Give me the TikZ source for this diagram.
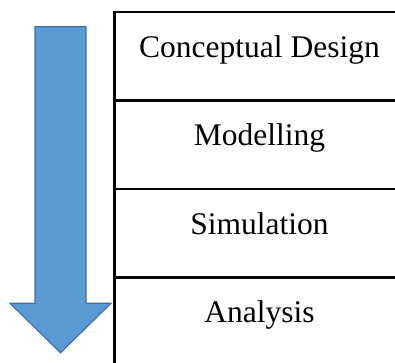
\documentclass[tikz,border=0pt]{standalone}
\usepackage{fontspec}
\setmainfont{Liberation Serif}
\usepackage{tikz}
\usetikzlibrary{calc}
\definecolor{flowblue}{RGB}{91,155,213}
\definecolor{flowedge}{RGB}{65,113,156}
\newcommand\tableleft{114.5}
\newcommand\tableright{402}
\newcommand\stagerow[3]{

  \draw[line width=2.2pt, line cap=rect] (\tableleft,#1) -- (\tableright,#1);
      \node[stagelabel] (#2) at (259.5,#1+45) {#3};
}

\begin{document}
\begin{tikzpicture}[x=1pt,y=-1pt,
  stagelabel/.style={anchor=base, inner sep=0pt, font=\fontsize{31.5}{38}\selectfont}]
\useasboundingbox (0,0) rectangle (395,362);
\clip (0,0) rectangle (395,362);

\stagerow{12}{design}{Conceptual Design};
\stagerow{100.5}{modelling}{Modelling};
\stagerow{189}{simulation}{Simulation};
\stagerow{277.5}{analysis}{Analysis};

% left border of the table, runs off the bottom
\draw[line width=2.4pt] (\tableleft,12) -- (\tableleft,370);

% big down arrow
\draw[fill=flowblue, draw=flowedge, line width=1.2pt, line join=miter]
  (35,26.7) -- (86,26.7) -- (86,303.3) -- (111,303.3) -- (60.5,352.7)
  -- (10,303.3) -- (35,303.3) -- cycle;

\end{tikzpicture}
\end{document}
